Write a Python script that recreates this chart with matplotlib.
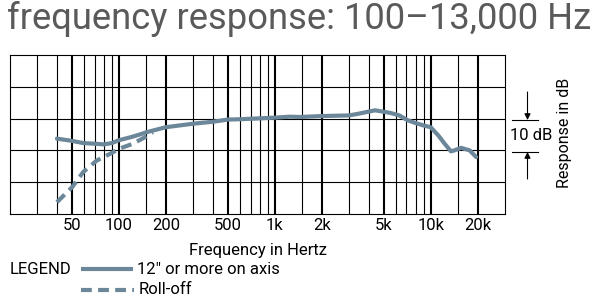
import numpy as np
import matplotlib.pyplot as plt
from matplotlib.lines import Line2D

# Response curve, 12" or more on axis (Hz, dB)
solid_freq = [40, 50, 59, 70, 80, 90, 100, 120, 136, 150, 200, 300, 400, 500,
              600, 900, 1000, 1250, 1450, 2000, 3000, 3500, 4000, 4400, 4800,
              5500, 6300, 7100, 7900, 8900, 10000, 11200, 12300, 13500, 14200,
              15700, 17800, 19600]
solid_db = [-6.3, -7.0, -7.7, -7.9, -8.1, -7.7, -6.8, -5.8, -5.0, -4.3, -2.7,
            -1.6, -1.0, -0.3, -0.2, 0.2, 0.3, 0.6, 0.5, 0.8, 1.0, 1.6, 2.2,
            2.6, 2.3, 1.8, 1.0, -0.5, -1.3, -2.1, -2.7, -5.3, -7.9, -10.3,
            -10.0, -9.2, -10.0, -12.1]

# Roll-off curve
roll_freq = [40, 50, 59, 72, 90, 100, 123, 150, 165]
roll_db = [-26.3, -21.6, -16.8, -13.2, -10.8, -9.5, -7.9, -5.6, -4.3]

major_ticks = [50, 100, 200, 500, 1000, 2000, 5000, 10000, 20000]
major_labels = ['50', '100', '200', '500', '1k', '2k', '5k', '10k', '20k']
minor_ticks = [30, 40, 60, 70, 80, 90, 150, 300, 400, 600, 700, 800, 900,
               1500, 3000, 4000, 6000, 7000, 8000, 9000, 15000]

plt.rcParams['font.family'] = ['Roboto', 'DejaVu Sans']
W, H = 600, 299
curve_color = '#6b8799'
fs = 12

fig = plt.figure(figsize=(W / 100, H / 100), dpi=100)
ax = fig.add_axes([10 / W, 1 - 214 / H, 495 / W, 159 / H])

ax.plot(roll_freq, roll_db, color=curve_color, lw=3, dashes=(2.6, 1.5),
        solid_capstyle='butt')
ax.plot(solid_freq, solid_db, color=curve_color, lw=3,
        solid_capstyle='round', solid_joinstyle='round')

ax.set_xscale('log')
ax.set_xlim(20, 30000)
ax.set_ylim(-30, 20)
ax.set_xticks(major_ticks)
ax.set_xticklabels(major_labels, fontsize=fs)
ax.set_xticks(minor_ticks, minor=True)
ax.set_xticklabels([], minor=True)
ax.set_yticks([-20, -10, 0, 10])
ax.set_yticklabels([])
ax.tick_params(which='both', length=0, pad=3)
ax.grid(which='major', axis='x', color='black', lw=1.5)
ax.grid(which='minor', axis='x', color='black', lw=0.8)
ax.grid(which='major', axis='y', color='black', lw=0.8)
ax.set_axisbelow(True)
for s in ax.spines.values():
    s.set_linewidth(0.8)

ax.set_xlabel('Frequency in Hertz', fontsize=fs, labelpad=7)

# title
fig.text(7 / W, 1 - 19 / H, 'frequency response: 100\u201313,000 Hz',
         fontsize=26.2, color='#5a5a5a', va='center', ha='left')

# 10 dB scale marker
for y in (120, 152):
    fig.add_artist(Line2D([512 / W, 538 / W], [1 - y / H, 1 - y / H],
                          color='black', lw=0.8))
ax_x = 527.5 / W
ax.annotate('', xy=(ax_x, 1 - 120 / H), xytext=(ax_x, 1 - 92 / H),
            xycoords='figure fraction',
            arrowprops=dict(arrowstyle='-|>', color='black', lw=0.8,
                            mutation_scale=9, shrinkA=0, shrinkB=0))
ax.annotate('', xy=(ax_x, 1 - 152 / H), xytext=(ax_x, 1 - 179 / H),
            xycoords='figure fraction',
            arrowprops=dict(arrowstyle='-|>', color='black', lw=0.8,
                            mutation_scale=9, shrinkA=0, shrinkB=0))
fig.text(531 / W, 1 - 136 / H, '10 dB', fontsize=fs, ha='center', va='center')
fig.text(564 / W, 1 - 133 / H, 'Response in dB', fontsize=11.5, rotation=90,
         ha='center', va='center')

# legend
fig.text(10 / W, 1 - 269 / H, 'LEGEND', fontsize=fs, ha='left', va='center')
fig.add_artist(Line2D([81 / W, 133 / W], [1 - 269 / H, 1 - 269 / H],
                      color=curve_color, lw=3, solid_capstyle='butt'))
fig.text(137 / W, 1 - 269 / H, '12" or more on axis', fontsize=fs,
         ha='left', va='center')
fig.add_artist(Line2D([81 / W, 134 / W], [1 - 290 / H, 1 - 290 / H],
                      color=curve_color, lw=3, dashes=(2.6, 1.5),
                      solid_capstyle='butt'))
fig.text(139 / W, 1 - 290 / H, 'Roll-off', fontsize=fs, ha='left', va='center')

fig.savefig('out.png', dpi=100, facecolor='white')
